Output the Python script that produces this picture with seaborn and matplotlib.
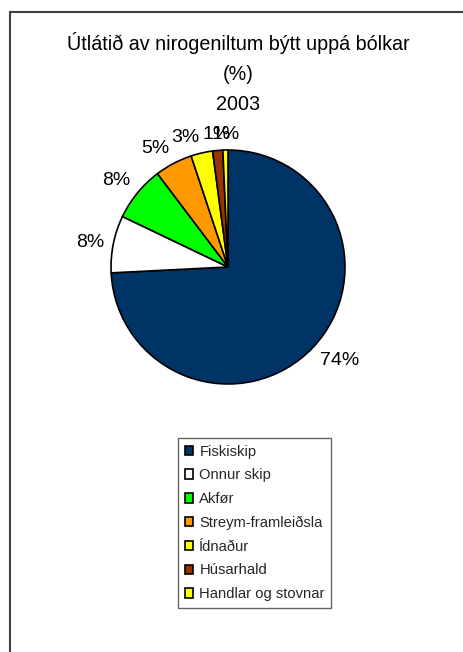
import matplotlib
matplotlib.use("Agg")
import matplotlib.pyplot as plt
import seaborn as sns
import numpy as np
from matplotlib.patches import Rectangle

## data
categories = ["Fiskiskip", "Onnur skip", "Akfør", "Streym-framleiðsla",
              "Ídnaður", "Húsarhald", "Handlar og stovnar"]
values = [74.2, 7.9, 7.6, 5.2, 3.0, 1.4, 0.7]
colors = ["#003366", "#FFFFFF", "#00FF00", "#FF9900", "#FFFF00", "#993300", "#FFFF00"]
title = "Útlátið av nirogeniltum býtt uppá bólkar\n(%)\n2003"

## style
sns.set_style("white")
plt.rcParams["font.family"] = ["Liberation Sans", "DejaVu Sans"]

fig = plt.figure(figsize=(4.63, 6.52), dpi=100)

## outer chart border
fig.patches.append(Rectangle((10/463, -0.1), 1.2, 1 - 12/652 + 0.1,
                             transform=fig.transFigure, fill=False,
                             edgecolor="#404040", linewidth=1.5))

## pie
ax = fig.add_axes([0.1766, 0.3662, 0.6317, 0.4486])
wedges, _ = ax.pie(values, colors=colors, startangle=90, counterclock=False,
                   wedgeprops={"edgecolor": "black", "linewidth": 1.2})
ax.set_xlim(-1.25, 1.25)
ax.set_ylim(-1.25, 1.25)
ax.set_aspect("equal")

## percent labels, placed outside the wedge like excel does
for w, v in zip(wedges, values):
    ang = np.deg2rad((w.theta1 + w.theta2) / 2)
    c, s = np.cos(ang), np.sin(ang)
    if abs(c) < 0.15:
        ha = "center"
    else:
        ha = "left" if c > 0 else "right"
    if abs(s) < 0.3:
        va = "center"
    else:
        va = "bottom" if s > 0 else "top"
    ax.text(1.08*c, 1.06*s, f"{round(v):.0f}%", ha=ha, va=va,
            fontsize=14, color="black")

## title
fig.text(238/463, 1 - 73/652, title, ha="center", va="center",
         fontsize=14.2, linespacing=1.7, color="black")

## legend
leg = fig.legend(wedges, categories, loc="upper left",
                 bbox_to_anchor=(178/463, 1 - 438/652),
                 fontsize=10.6, frameon=True, fancybox=False,
                 handlelength=0.6, handleheight=0.6, handletextpad=0.4,
                 labelspacing=0.66, borderpad=0.45, borderaxespad=0)
leg.get_frame().set_edgecolor("#404040")
leg.get_frame().set_linewidth(1.0)

plt.savefig("out.png", dpi=100)
plt.close()
